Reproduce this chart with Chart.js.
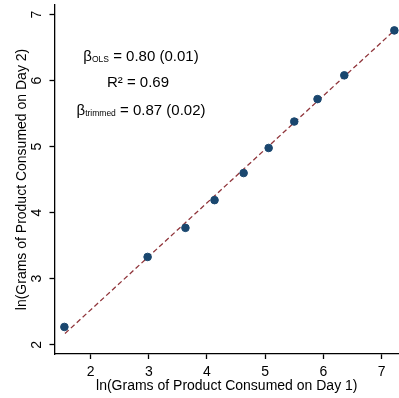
<!DOCTYPE html>
<html>
<head>
<meta charset="utf-8">
<script src="https://cdn.jsdelivr.net/npm/chart.js@4/dist/chart.umd.min.js"></script>
<style>
  html, body { margin: 0; padding: 0; background: #fff; }
</style>
</head>
<body>
<canvas id="chart" width="399" height="398"></canvas>
<script>
// binned means, ln grams
const day1 = [1.55, 2.98, 3.63, 4.13, 4.63, 5.06, 5.50, 5.90, 6.36, 7.22];
const day2 = [2.27, 3.33, 3.77, 4.19, 4.60, 4.98, 5.38, 5.72, 6.08, 6.76];
const fitX = [1.56, 7.22];
const fitY = [2.17, 6.76];
const xTicks = [2, 3, 4, 5, 6, 7];
const yTicks = [2, 3, 4, 5, 6, 7];
const xTitle = 'ln(Grams of Product Consumed on Day 1)';
const yTitle = 'ln(Grams of Product Consumed on Day 2)';
// [main, subscript, rest]
const notes = [
    ['β', 'OLS', ' = 0.80 (0.01)'],
    ['R²', '', ' = 0.69'],
    ['β', 'trimmed', ' = 0.87 (0.02)']
];

const FONT = '"Liberation Sans", Arial, sans-serif';
const navy = '#1a476f';
const maroon = '#90353b';
const ink = '#000';

const notesPlugin = {
    id: 'notes',
    afterDatasetsDraw(chart) {
        const ctx = chart.ctx;
        const centers = [141, 138, 141];
        const rows = [60.5, 87, 114.5];
        const big = '15px ' + FONT, small = '8.5px ' + FONT;
        ctx.save();
        ctx.fillStyle = ink;
        ctx.textBaseline = 'alphabetic';
        ctx.textAlign = 'left';
        notes.forEach((n, i) => {
            ctx.font = big;
            const w1 = ctx.measureText(n[0]).width;
            const w3 = ctx.measureText(n[2]).width;
            ctx.font = small;
            const w2 = ctx.measureText(n[1]).width;
            let x = centers[i] - (w1 + w2 + w3) / 2;
            const y = rows[i];
            ctx.font = big;
            ctx.fillText(n[0], x, y);
            x += w1;
            ctx.font = small;
            ctx.fillText(n[1], x, y + 1.5);
            x += w2;
            ctx.font = big;
            ctx.fillText(n[2], x, y);
        });
        ctx.restore();
    }
};

new Chart(document.getElementById('chart'), {
    type: 'scatter',
    data: {
        datasets: [{
            data: day1.map((x, i) => ({ x, y: day2[i] })),
            backgroundColor: navy,
            borderColor: navy,
            pointRadius: 3.8,
            pointHoverRadius: 3.8,
            order: 0
        }, {
            data: fitX.map((x, i) => ({ x, y: fitY[i] })),
            showLine: true,
            borderColor: maroon,
            borderWidth: 1.3,
            borderDash: [5, 3],
            pointRadius: 0,
            order: 1
        }]
    },
    options: {
        responsive: false,
        animation: false,
        layout: { autoPadding: false, padding: { top: 5, right: 0, left: 0, bottom: 0 } },
        plugins: {
            legend: { display: false },
            tooltip: { enabled: false }
        },
        scales: {
            x: {
                type: 'linear',
                min: 1.38,
                max: 7.30,
                afterBuildTicks: s => { s.ticks = xTicks.map(v => ({ value: v })); },
                afterFit: s => { s.height = 44; s.paddingLeft = 0; s.paddingRight = 0; },
                border: { color: ink, width: 1.3 },
                grid: { drawOnChartArea: false, drawTicks: true, tickLength: 5, tickColor: ink, tickWidth: 1.3 },
                ticks: { color: ink, padding: 5, font: { family: FONT, size: 14 } },
                title: { display: true, text: xTitle, color: ink, font: { family: FONT, size: 14 }, padding: { top: 0, bottom: 3 } }
            },
            y: {
                type: 'linear',
                min: 1.86,
                max: 7.145,
                afterBuildTicks: s => { s.ticks = yTicks.map(v => ({ value: v })); },
                afterFit: s => { s.width = 54.5; s.paddingTop = 0; s.paddingBottom = 0; },
                border: { color: ink, width: 1.3 },
                grid: { drawOnChartArea: false, drawTicks: true, tickLength: 5, tickColor: ink, tickWidth: 1.3 },
                ticks: { color: ink, padding: 8, minRotation: 90, maxRotation: 90, crossAlign: 'center', font: { family: FONT, size: 14 } },
                title: { display: true, text: yTitle, color: ink, font: { family: FONT, size: 14 }, padding: { top: 14, bottom: 0 } }
            }
        }
    },
    plugins: [notesPlugin]
});
</script>
</body>
</html>
